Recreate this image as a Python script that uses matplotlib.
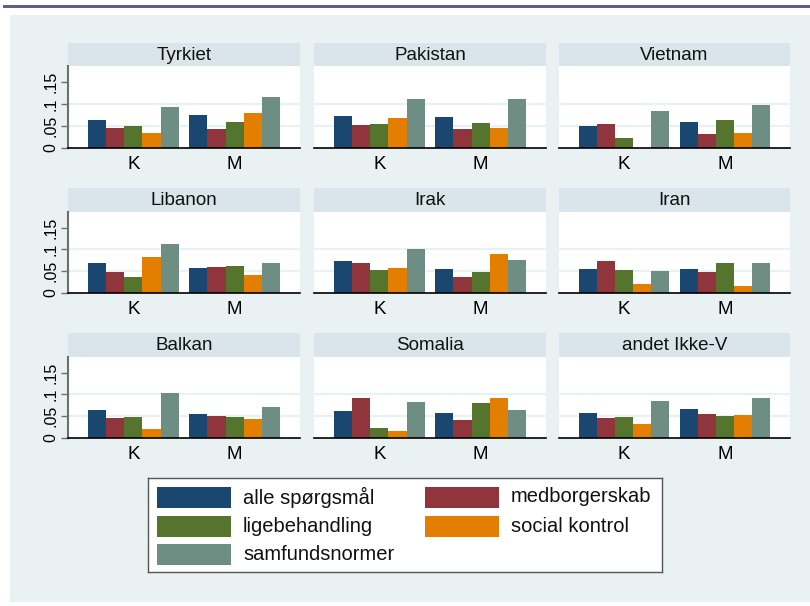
import matplotlib
matplotlib.use("Agg")
import matplotlib.pyplot as plt
from matplotlib.patches import Rectangle
import numpy as np

plt.rcParams['font.family'] = ['Liberation Sans', 'DejaVu Sans']

W, H = 810, 606

countries = ["Tyrkiet", "Pakistan", "Vietnam",
             "Libanon", "Irak", "Iran",
             "Balkan", "Somalia", "andet Ikke-V"]
groups = ["K", "M"]
series = ["alle spørgsmål", "medborgerskab", "ligebehandling",
          "social kontrol", "samfundsnormer"]
colors = ["#1A476F", "#90353B", "#55752F", "#E37E00", "#6E8E84"]

# values per country: [K, M]
alle = {"Tyrkiet": [0.063, 0.074], "Pakistan": [0.073, 0.071], "Vietnam": [0.051, 0.060],
        "Libanon": [0.070, 0.057], "Irak": [0.074, 0.056], "Iran": [0.054, 0.055],
        "Balkan": [0.064, 0.056], "Somalia": [0.063, 0.058], "andet Ikke-V": [0.057, 0.067]}
medb = {"Tyrkiet": [0.046, 0.042], "Pakistan": [0.053, 0.042], "Vietnam": [0.055, 0.032],
        "Libanon": [0.048, 0.060], "Irak": [0.070, 0.037], "Iran": [0.073, 0.048],
        "Balkan": [0.047, 0.051], "Somalia": [0.091, 0.042], "andet Ikke-V": [0.045, 0.056]}
ligeb = {"Tyrkiet": [0.050, 0.058], "Pakistan": [0.055, 0.057], "Vietnam": [0.022, 0.064],
         "Libanon": [0.037, 0.061], "Irak": [0.053, 0.048], "Iran": [0.053, 0.070],
         "Balkan": [0.049, 0.049], "Somalia": [0.022, 0.080], "andet Ikke-V": [0.048, 0.051]}
socialk = {"Tyrkiet": [0.035, 0.080], "Pakistan": [0.069, 0.046], "Vietnam": [0.0, 0.034],
           "Libanon": [0.083, 0.042], "Irak": [0.057, 0.089], "Iran": [0.021, 0.017],
           "Balkan": [0.020, 0.044], "Somalia": [0.016, 0.091], "andet Ikke-V": [0.033, 0.053]}
samf = {"Tyrkiet": [0.094, 0.116], "Pakistan": [0.111, 0.112], "Vietnam": [0.083, 0.097],
        "Libanon": [0.113, 0.068], "Irak": [0.100, 0.076], "Iran": [0.051, 0.069],
        "Balkan": [0.104, 0.072], "Somalia": [0.083, 0.064], "andet Ikke-V": [0.084, 0.093]}
all_series = [alle, medb, ligeb, socialk, samf]

ytick_vals = [0, 0.05, 0.1, 0.15]
ytick_labels = ["0", ".05", ".1", ".15"]

fig = plt.figure(figsize=(W / 100, H / 100), dpi=100, facecolor="white")


def px_axes(x0, y0, x1, y1, **kw):
    return fig.add_axes([x0 / W, 1 - y1 / H, (x1 - x0) / W, (y1 - y0) / H], **kw)


# background
bg = px_axes(0, 0, W, H, zorder=-10)
bg.set_xlim(0, W)
bg.set_ylim(H, 0)
bg.axis("off")
bg.add_patch(Rectangle((10, 15), W - 10, 587, facecolor="#EAF1F3", edgecolor="none"))
bg.add_patch(Rectangle((3, 5), W - 3, 3, facecolor="#6A5A8C", edgecolor="none"))

cols = [(68, 300), (314, 546), (559, 790)]
rows = [(43, 66, 148), (188, 212, 293), (333, 357, 438)]

bw = 0.179
offsets = (np.arange(5) - 2) * bw
xpos = np.arange(len(groups))

for i, c in enumerate(countries):
    r, k = divmod(i, 3)
    x0, x1 = cols[k]
    t0, p0, p1 = rows[r]
    # title strip
    ts = px_axes(x0, t0, x1, p0)
    ts.set_facecolor("#D9E5EA")
    ts.set_xticks([]); ts.set_yticks([])
    for s in ts.spines.values():
        s.set_visible(False)
    ts.text(0.5, 0.47, c, ha="center", va="center", fontsize=13.5, color="#111111",
            transform=ts.transAxes)
    # plot
    ax = px_axes(x0, p0, x1, p1)
    ax.set_facecolor("white")
    for j, sd in enumerate(all_series):
        vals = sd[c]
        ax.bar(xpos + offsets[j], vals, width=bw, color=colors[j], edgecolor="none",
               zorder=3)
    ax.set_xlim(-0.645, 1.645)
    ax.set_ylim(0, 0.186)
    for g in [0.05, 0.1]:
        ax.axhline(g, color="#EAF1F3", lw=1.6, zorder=1)
    ax.set_xticks(xpos)
    ax.set_xticklabels(groups, fontsize=13.5)
    ax.tick_params(axis="x", length=0, pad=6)
    for s in ["top", "right"]:
        ax.spines[s].set_visible(False)
    ax.spines["bottom"].set_color("black")
    ax.spines["bottom"].set_linewidth(1.2)
    ax.spines["bottom"].set_zorder(5)
    if k == 0:
        ax.spines["left"].set_color("#6E6E6E")
        ax.spines["left"].set_linewidth(1.5)
        ax.set_yticks(ytick_vals)
        ax.set_yticklabels(ytick_labels, rotation=90, va="center", fontsize=11.5)
        ax.tick_params(axis="y", length=5, width=1, color="#6E6E6E", pad=2)
    else:
        ax.spines["left"].set_visible(False)
        ax.set_yticks([])

# legend
lg = px_axes(148, 478, 662, 572)
lg.set_xlim(148, 662)
lg.set_ylim(572, 478)
lg.set_xticks([]); lg.set_yticks([])
lg.set_facecolor("white")
for s in lg.spines.values():
    s.set_color("#555555")
    s.set_linewidth(1.0)
leg_pos = [(157, 497), (425, 497), (157, 526), (425, 526), (157, 554)]
for (lx, ly), name, col in zip(leg_pos, series, colors):
    lg.add_patch(Rectangle((lx, ly - 10.5), 74, 21, facecolor=col, edgecolor="none"))
    lg.text(lx + 86, ly, name, va="center", ha="left", fontsize=14.5, color="#111111")

fig.savefig("out.png", dpi=100, facecolor="white")
